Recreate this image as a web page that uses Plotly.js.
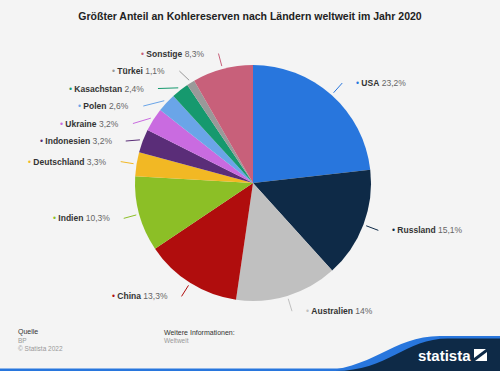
<!DOCTYPE html>
<html>
<head>
<meta charset="utf-8">
<script src="https://cdn.plot.ly/plotly-3.0.1.min.js"></script>
<style>html,body{margin:0;padding:0;background:#f4f4f4;}#chart{width:500px;height:371px;}</style>
</head>
<body>
<div id="chart"></div>
<script>
const countries = ["USA","Russland","Australien","China","Indien","Deutschland","Indonesien","Ukraine","Polen","Kasachstan","Türkei","Sonstige"];
const shares = [23.2,15.1,14,13.3,10.3,3.3,3.2,3.2,2.6,2.4,1.1,8.3];
const valueLabels = ["23,2%","15,1%","14%","13,3%","10,3%","3,3%","3,2%","3,2%","2,6%","2,4%","1,1%","8,3%"];
const colors = ["#2876dd","#0e2a47","#c0c0c0","#b00d0d","#8cbf26","#f2b824","#5a2d78","#c96be0","#6aa5e8","#16996e","#999999","#c8607a"];

const W = 500, H = 371;
const cx = 253, cy = 183, r = 118;
const px = x => x / W;
const py = y => 1 - y / H;

const total = shares.reduce((a,b)=>a+b,0);
let cum = 0;
const items = shares.map((v,i)=>{
  const a0 = cum / total * 360; cum += v; const a1 = cum / total * 360;
  const mid = (a0 + a1) / 2 * Math.PI / 180;
  const s = Math.sin(mid), c = Math.cos(mid);
  const R = r + 16;
  return {i, s, c, side: s >= 0 ? 1 : -1,
    sx: cx + (r+3)*s, sy: cy - (r+3)*c,
    ey: cy - R*c};
});
// avoid overlap per side
[1,-1].forEach(side=>{
  const arr = items.filter(o=>o.side===side).sort((a,b)=>a.ey-b.ey);
  for (let k=1;k<arr.length;k++){
    if (arr[k].ey < arr[k-1].ey + 17.5) arr[k].ey = arr[k-1].ey + 17.5;
  }
});
const R2 = r + 16;
const shapes = [];
const annotations = [];
items.forEach(o=>{
  const dy = o.ey - cy;
  const dx = Math.sqrt(Math.max(R2*R2 - dy*dy, 100));
  const ex = cx + o.side*dx;
  shapes.push({type:"line", xref:"paper", yref:"paper",
    x0:px(o.sx), y0:py(o.sy), x1:px(ex), y1:py(o.ey),
    line:{color:colors[o.i], width:1}});
  annotations.push({xref:"paper", yref:"paper",
    x:px(ex + o.side*12), y:py(o.ey), xanchor: o.side>0?"left":"right", yanchor:"middle",
    showarrow:false,
    text:'<span style="color:'+colors[o.i]+'">•</span> <b>'+countries[o.i]+'</b> <span style="color:#666">'+valueLabels[o.i]+'</span>',
    font:{family:"Liberation Sans, Arial, sans-serif", size:8.5, color:"#333"}});
});

// footer texts
const foot = (x,y,t,col,sz)=>({xref:"paper",yref:"paper",x:px(x),y:py(y),xanchor:"left",yanchor:"middle",showarrow:false,text:t,font:{family:"Liberation Sans, Arial, sans-serif",size:sz,color:col}});
annotations.push(foot(16,332,"Quelle","#333",7));
annotations.push(foot(16,340,"BP","#999",6.5));
annotations.push(foot(16,348,"© Statista 2022","#999",6.5));
annotations.push(foot(162,332,"Weitere Informationen:","#333",7));
annotations.push(foot(162,340,"Weltweit","#999",6.5));

// logo
const pth = pts => pts;
const toP = (x,y)=> px(x).toFixed(4)+","+py(y).toFixed(4);
shapes.push({type:"rect",xref:"paper",yref:"paper",x0:0,x1:1,y0:py(371),y1:py(368.5),fillcolor:"#2876dd",line:{width:0},layer:"above"});
shapes.push({type:"path",xref:"paper",yref:"paper",
  path:"M"+toP(315,371)+" C"+toP(372,371)+" "+toP(392,336)+" "+toP(440,336)+" L"+toP(500,336)+" L"+toP(500,371)+" Z",
  fillcolor:"#2876dd",line:{width:0},layer:"above"});
shapes.push({type:"path",xref:"paper",yref:"paper",
  path:"M"+toP(335,371)+" C"+toP(388,371)+" "+toP(405,338.5)+" "+toP(448,338.5)+" L"+toP(500,338.5)+" L"+toP(500,371)+" Z",
  fillcolor:"#0e2a47",line:{width:0},layer:"above"});
shapes.push({type:"path",xref:"paper",yref:"paper",
  path:"M"+toP(474,349)+" L"+toP(486,349)+" L"+toP(474,358)+" Z",fillcolor:"#ffffff",line:{width:0},layer:"above"});
shapes.push({type:"path",xref:"paper",yref:"paper",
  path:"M"+toP(487,352)+" L"+toP(487,361)+" L"+toP(475,361)+" Z",fillcolor:"#ffffff",line:{width:0},layer:"above"});
annotations.push({xref:"paper",yref:"paper",x:px(444),y:py(355),xanchor:"center",yanchor:"middle",showarrow:false,
  text:"<b>statista</b>",font:{family:"Liberation Sans, Arial, sans-serif",size:15,color:"#ffffff"}});

const data = [{
  type:"pie", labels:countries, values:shares, sort:false, direction:"clockwise", rotation:0,
  marker:{colors:colors, line:{width:0}}, textinfo:"none", hoverinfo:"label+percent",
  domain:{x:[px(cx-r), px(cx+r)], y:[py(cy+r), py(cy-r)]}, showlegend:false
}];
const layout = {
  width:W, height:H, margin:{l:0,r:0,t:0,b:0},
  paper_bgcolor:"#f4f4f4", plot_bgcolor:"#f4f4f4",
  title:{text:"<b>Größter Anteil an Kohlereserven nach Ländern weltweit im Jahr 2020</b>",
    font:{family:"Liberation Sans, Arial, sans-serif", size:10.5, color:"#222"},
    x:0.5, xanchor:"center", y:py(16), yanchor:"middle"},
  shapes:shapes, annotations:annotations, showlegend:false
};
Plotly.newPlot("chart", data, layout, {displayModeBar:false, staticPlot:true});
</script>
</body>
</html>
